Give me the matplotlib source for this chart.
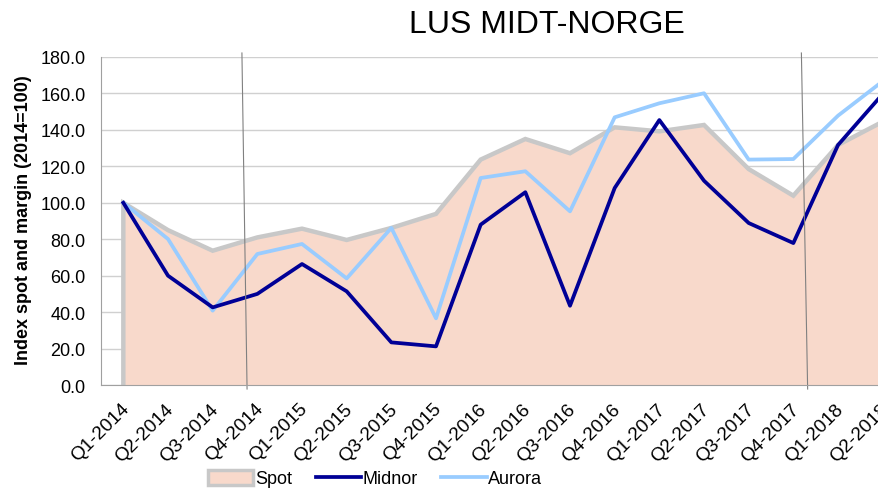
import matplotlib
matplotlib.use("Agg")
import matplotlib.pyplot as plt
import matplotlib.transforms as mtransforms
from matplotlib.patches import Patch
from matplotlib.lines import Line2D

plt.rcParams['font.family'] = ['Liberation Sans', 'DejaVu Sans']

# quarters on the category axis
quarters = ['Q1-2014', 'Q2-2014', 'Q3-2014', 'Q4-2014',
            'Q1-2015', 'Q2-2015', 'Q3-2015', 'Q4-2015',
            'Q1-2016', 'Q2-2016', 'Q3-2016', 'Q4-2016',
            'Q1-2017', 'Q2-2017', 'Q3-2017', 'Q4-2017',
            'Q1-2018', 'Q2-2018']

# index values (2014=100)
spot = [100.0, 85.0, 73.7, 81.0, 85.8, 79.6, 86.2, 93.9,
        123.7, 135.0, 127.2, 141.4, 139.2, 142.7, 118.5, 103.9,
        131.7, 144.5]
midnor = [100.0, 60.0, 42.6, 50.0, 66.4, 51.4, 23.4, 21.2,
          88.0, 105.8, 43.5, 108.1, 145.4, 112.1, 88.9, 77.9,
          131.7, 159.7]
aurora = [100.0, 80.1, 40.8, 71.9, 77.4, 58.5, 86.2, 36.6,
          113.6, 117.3, 95.3, 146.9, 154.6, 160.1, 123.7, 124.0,
          147.8, 166.7]

yticks = [0, 20, 40, 60, 80, 100, 120, 140, 160, 180]

fill_col = '#F8D9CB'
spot_col = '#C8C8C8'
midnor_col = '#000096'
aurora_col = '#99CCFF'

fig = plt.figure(figsize=(8.79, 4.89), dpi=100)
# axes runs past the right edge, the original picture is cropped there
ax = fig.add_axes([0.1149, 0.2106, 0.9147, 0.6708])

x = list(range(len(quarters)))

ax.fill_between(x, spot, 0, color=fill_col, lw=0, zorder=2)
ax.plot([0] + x, [0] + spot, color=spot_col, lw=3.2, zorder=3,
        solid_joinstyle='miter')
ax.plot(x, midnor, color=midnor_col, lw=2.7, zorder=5)
ax.plot(x, aurora, color=aurora_col, lw=2.7, zorder=4)

# the two thin markers drawn over the chart
ax.plot([2.655, 2.77], [182.2, -2.2], color='#808080', lw=0.8,
        clip_on=False, zorder=6)
ax.plot([15.18, 15.32], [182.2, -2.2], color='#808080', lw=0.8,
        clip_on=False, zorder=6)

ax.set_xlim(-0.5, len(quarters) - 0.5)
ax.set_ylim(0, 180)
ax.set_yticks(yticks)
ax.set_yticklabels(['%.1f' % v for v in yticks])
ax.set_xticks(x)
ax.set_xticklabels(quarters, rotation=45, ha='right', va='center',
                   rotation_mode='anchor')
ax.tick_params(axis='y', length=0, pad=11, labelsize=13, colors='#000000')
ax.tick_params(axis='x', length=0, pad=15, labelsize=13.8, colors='#000000')
shift = mtransforms.ScaledTranslation(3 / 100, 0, fig.dpi_scale_trans)
for lab in ax.get_xticklabels():
    lab.set_transform(lab.get_transform() + shift)

ax.grid(axis='y', color='#D0D0D0', lw=1.0, zorder=0)
ax.set_axisbelow(True)
for s in ['top', 'right']:
    ax.spines[s].set_visible(False)
ax.spines['left'].set_color('#A0A0A0')
ax.spines['bottom'].set_color('#A0A0A0')
ax.spines['bottom'].set_zorder(7)

fig.text(0.0273, 0.55, 'Index spot and margin (2014=100)', rotation=90,
         ha='center', va='center', fontsize=13, fontweight='bold')
fig.text(0.622, 0.948, 'LUS MIDT-NORGE', ha='center', va='center',
         fontsize=23)

handles = [Patch(facecolor=fill_col, edgecolor=spot_col, lw=2.5),
           Line2D([], [], color=midnor_col, lw=2.7),
           Line2D([], [], color=aurora_col, lw=2.7)]
fig.legend(handles, ['Spot', 'Midnor', 'Aurora'], loc='center',
           bbox_to_anchor=(0.427, 0.0194), ncol=3, frameon=False,
           fontsize=13, handlelength=2.5, handletextpad=0.1,
           columnspacing=1.3, handleheight=0.9)

fig.savefig('out.png', dpi=100)
